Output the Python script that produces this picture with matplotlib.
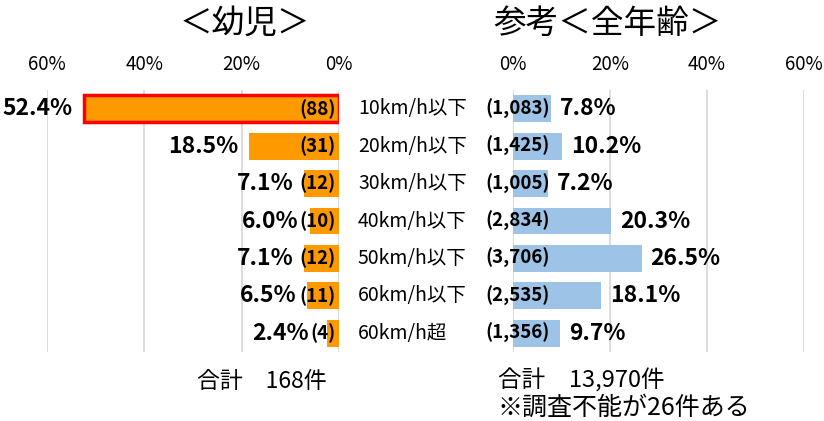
import matplotlib.pyplot as plt
import matplotlib.transforms as mtransforms

plt.rcParams['font.family'] = ['Noto Sans CJK JP', 'DejaVu Sans']

# data
speeds = ['10km/h以下', '20km/h以下', '30km/h以下', '40km/h以下',
          '50km/h以下', '60km/h以下', '60km/h超']
child_pct = [52.4, 18.5, 7.1, 6.0, 7.1, 6.5, 2.4]
child_cnt = [88, 31, 12, 10, 12, 11, 4]
all_pct = [7.8, 10.2, 7.2, 20.3, 26.5, 18.1, 9.7]
all_cnt = [1083, 1425, 1005, 2834, 3706, 2535, 1356]
ticks = [0, 20, 40, 60]

W, H = 824, 421
fig = plt.figure(figsize=(W / 100, H / 100), dpi=100)

def box(x0, x1, y0, y1):
    return [x0 / W, 1 - y1 / H, (x1 - x0) / W, (y1 - y0) / H]

axL = fig.add_axes(box(47, 339, 90, 352))
axR = fig.add_axes(box(513, 804, 90, 352))

rows = list(range(len(speeds)))

for ax in (axL, axR):
    ax.set_xlim(0, 60)
    ax.set_ylim(len(speeds) - 0.5, -0.5)
    ax.set_xticks(ticks)
    ax.set_xticklabels([f'{t}%' for t in ticks], fontsize=13.5)
    ax.xaxis.tick_top()
    ax.tick_params(axis='x', length=0, pad=11)
    ax.set_yticks([])
    for s in ax.spines.values():
        s.set_visible(False)
    ax.grid(axis='x', color='#D9D9D9', lw=1.3)
    ax.set_axisbelow(True)

axL.invert_xaxis()

# left: children
bars = axL.barh(rows, child_pct, height=0.72, color='#FF9900')
bars[0].set_edgecolor('#FF0000')
bars[0].set_linewidth(2.5)

for i, (p, c) in enumerate(zip(child_pct, child_cnt)):
    axL.annotate(f'{p:.1f}%', (max(p, 4), i), xytext=(-11, 0), textcoords='offset pixels',
                 ha='right', va='center', fontsize=16.5, fontweight='bold')
    axL.annotate(f'({c})', (0, i), xytext=(-3, 0), textcoords='offset pixels',
                 ha='right', va='center', fontsize=13.5, fontweight='bold')

# right: all ages
axR.barh(rows, all_pct, height=0.72, color='#9DC3E6')
for i, (p, c) in enumerate(zip(all_pct, all_cnt)):
    axR.annotate(f'({c:,})', (0, i), xytext=(-28, 0), textcoords='offset pixels',
                 ha='left', va='center', fontsize=13.5, fontweight='bold')
    axR.annotate(f'{p:.1f}%', (p, i), xytext=(9, 0), textcoords='offset pixels',
                 ha='left', va='center', fontsize=16.5, fontweight='bold')

# category labels between panels
tr = mtransforms.blended_transform_factory(fig.transFigure, axL.transData)
for i, s in enumerate(speeds):
    fig.text(358 / W, i, s, transform=tr, ha='left', va='center', fontsize=14)

# titles
fig.text(245 / W, 1 - 24 / H, '＜幼児＞', ha='center', va='center', fontsize=23.5)
fig.text(608 / W, 1 - 24 / H, '参考＜全年齢＞', ha='center', va='center', fontsize=23.5)

# totals
fig.text(197 / W, 1 - 381 / H, '合計　168件', ha='left', va='center', fontsize=16.5)
fig.text(498 / W, 1 - 381 / H, '合計　13,970件', ha='left', va='center', fontsize=17)
fig.text(498 / W, 1 - 408 / H, '※調査不能が26件ある', ha='left', va='center', fontsize=18)

fig.savefig('out.png', dpi=100)
